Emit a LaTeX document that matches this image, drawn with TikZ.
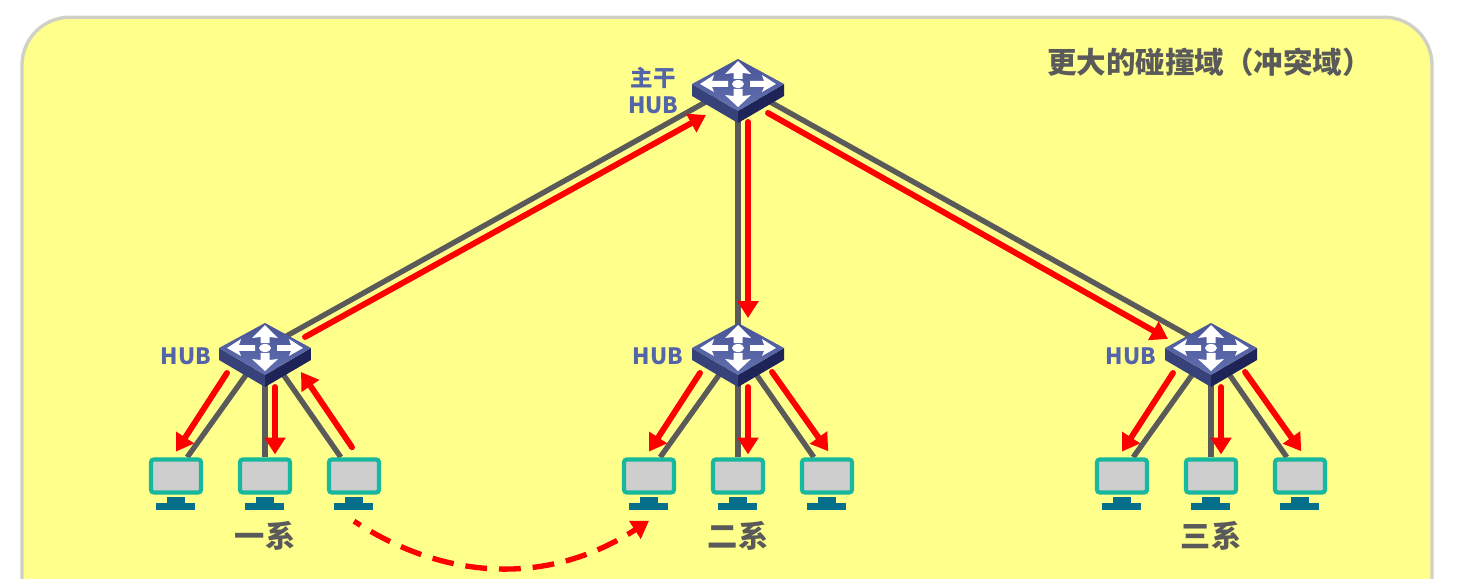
\documentclass[tikz,border=0pt]{standalone}
\usepackage{xcolor}
\usepackage{fontspec}
\setmainfont{Noto Sans CJK SC}
\usetikzlibrary{arrows.meta, calc}
\definecolor{panelyellow}{RGB}{255,255,140}
\definecolor{panelrim}{RGB}{208,208,196}
\definecolor{linkgray}{RGB}{90,90,90}
\definecolor{hublabel}{RGB}{84,100,168}
\definecolor{hubtopa}{RGB}{98,112,178}
\definecolor{hubtopb}{RGB}{72,84,150}
\definecolor{hubleft}{RGB}{56,66,122}
\definecolor{hubright}{RGB}{30,36,88}
\definecolor{pcrim}{RGB}{22,184,158}
\definecolor{pcscreen}{RGB}{206,206,206}
\definecolor{pcstand}{RGB}{6,112,140}
\tikzstyle{hubbox}  = [rectangle, minimum width=2.3cm, minimum height=1.6cm, inner sep=0pt]
\tikzstyle{pcbox}   = [rectangle, minimum width=1.325cm, minimum height=1.325cm, inner sep=0pt]
\tikzstyle{link}    = [linkgray, line width=3.8pt]
\tikzstyle{flow}    = [red, line width=4.2pt, line cap=round, -{Triangle[length=12pt, width=14.5pt]}]
\tikzstyle{jump}    = [red, line width=3.8pt, dash pattern=on 15.5pt off 8.5pt, dash phase=10pt, -{Triangle[length=12pt, width=14.5pt]}]
\tikzstyle{hubtext} = [font=\fontsize{16}{19.2}\selectfont\bfseries, text=hublabel, align=center, inner sep=0pt]
\tikzstyle{grptext} = [font=\fontsize{21.5}{26}\selectfont\bfseries, text=linkgray, inner sep=0pt]
\tikzset{
  hubicon/.pic={
    \begin{scope}[scale=0.025]
      \fill[hubleft] (-46,-6) -- (0,21) -- (0,33) -- (-46,6) -- cycle;
      \fill[hubright] (46,-6) -- (0,21) -- (0,33) -- (46,6) -- cycle;
      \shade[top color=hubtopb, bottom color=hubtopa] (0,-31) -- (46,-6) -- (0,21) -- (-46,-6) -- cycle;
      \fill[white] (0,-29) -- (13,-16) -- (4.5,-17) -- (4.5,-11) -- (-4.5,-11) -- (-4.5,-17) -- (-13,-16) -- cycle;
      \fill[white] (0,17) -- (13,5) -- (4.5,6) -- (4.5,-1) -- (-4.5,-1) -- (-4.5,6) -- (-13,5) -- cycle;
      \fill[white] (38,-6) -- (24,-15) -- (26,-9) -- (12,-9) -- (12,-3) -- (26,-3) -- (24,2) -- cycle;
      \fill[white] (-38,-6) -- (-24,-15) -- (-26,-9) -- (-10,-9) -- (-10,-3) -- (-26,-3) -- (-24,2) -- cycle;
      \fill[white] (0,-6) ellipse (6 and 4);
    \end{scope}
  },
  pcicon/.pic={
    \begin{scope}[scale=0.025]
      \draw[pcrim, fill=pcscreen, line width=3pt, rounded corners=2pt] (-25,-24.5) rectangle (25,8.5);
      \fill[pcstand] (-9,13.5) rectangle (9,20);
      \fill[pcstand] (-20,19) rectangle (19,26);
    \end{scope}
  },
}

\begin{document}
\begin{tikzpicture}[y=-1cm]
    \path[use as bounding box, clip] (0,0) rectangle (36.7,14.475);
    \draw[panelrim, fill=panelyellow, line width=2.4pt, rounded corners=1.2cm]
         (0.55,0.43) rectangle (35.8,17);

    \node[hubbox] (hubT) at (18.45,2.25) {};
    \node[hubbox] (hubA) at (6.625,8.85) {};
    \node[hubbox] (hubB) at (18.45,8.85) {};
    \node[hubbox] (hubC) at (30.275,8.85) {};
    \foreach \g in {A,B,C} {
      \node[pcbox] (pc\g1) at ($(hub\g)+(-2.225,3.25)$) {};
      \node[pcbox] (pc\g2) at ($(hub\g)+(0,3.25)$) {};
      \node[pcbox] (pc\g3) at ($(hub\g)+(2.225,3.25)$) {};
    }

    \draw[link] ($(hubT)+(0,-0.15)$) -- ($(hubA)+(0,-0.15)$);
    \draw[link] (hubT.center) -- (hubB.center);
    \draw[link] ($(hubT)+(0,-0.15)$) -- ($(hubC)+(0,-0.15)$);
    \foreach \g in {A,B,C} {
      \draw[link] ($(hub\g)+(-0.1,0)$) -- ([xshift=0.28cm]pc\g1.north);
      \draw[link] (hub\g.center) -- (pc\g2.north);
      \draw[link] ($(hub\g)+(0.1,0)$) -- ([xshift=-0.33cm]pc\g3.north);
      \pic at (hub\g) {hubicon};
      \pic at (pc\g1) {pcicon};
      \pic at (pc\g2) {pcicon};
      \pic at (pc\g3) {pcicon};
    }
    \pic at (hubT) {hubicon};

    \draw[flow] ($(hubA)+(1,-0.425)$) -- ($(hubT)+(-0.8,0.625)$);
    \draw[flow] ($(hubT)+(0.25,0.8)$) -- ($(hubB)+(0.25,-0.9)$);
    \draw[flow] ($(hubT)+(0.75,0.575)$) -- ($(hubC)+(-1.075,-0.375)$);
    \foreach \g in {A,B,C} {
      \draw[flow] ($(hub\g)+(-0.95,0.475)$) -- ($(pc\g1.north)+(0,-0.14)$);
      \draw[flow] ($(hub\g)+(0.25,0.825)$) -- ($(pc\g2.north)+(0.25,-0.07)$);
    }
    \draw[flow] ($(pcA3.north)+(-0.05,-0.25)$) -- ($(hubA)+(0.9,0.45)$);
    \draw[flow] ($(hubB)+(0.85,0.45)$) -- ($(pcB3.north)+(0.03,-0.15)$);
    \draw[flow] ($(hubC)+(0.85,0.45)$) -- ($(pcC3.north)+(0.03,-0.15)$);
    \draw[jump] ($(pcA3.south)+(0,0.26)$) to[out=-33, in=213, looseness=1] ($(pcB1.south)+(0,0.25)$);

    \node[hubtext] (lblT) at (16.33,2.27) {主干\\HUB};
    \node[hubtext] (lblA) at (4.65,8.9) {HUB};
    \node[hubtext] (lblB) at (16.45,8.9) {HUB};
    \node[hubtext] (lblC) at (28.275,8.9) {HUB};
    \node[grptext] (grpA) at (6.625,13.4) {一系};
    \node[grptext] (grpB) at (18.45,13.4) {二系};
    \node[grptext] (grpC) at (30.275,13.4) {三系};
    \node[font=\fontsize{21}{25}\selectfont\bfseries, text=linkgray, inner sep=0pt] (title) at (30.24,1.55)
      {更大的碰撞域（冲突域）};
  \end{tikzpicture}
\end{document}
